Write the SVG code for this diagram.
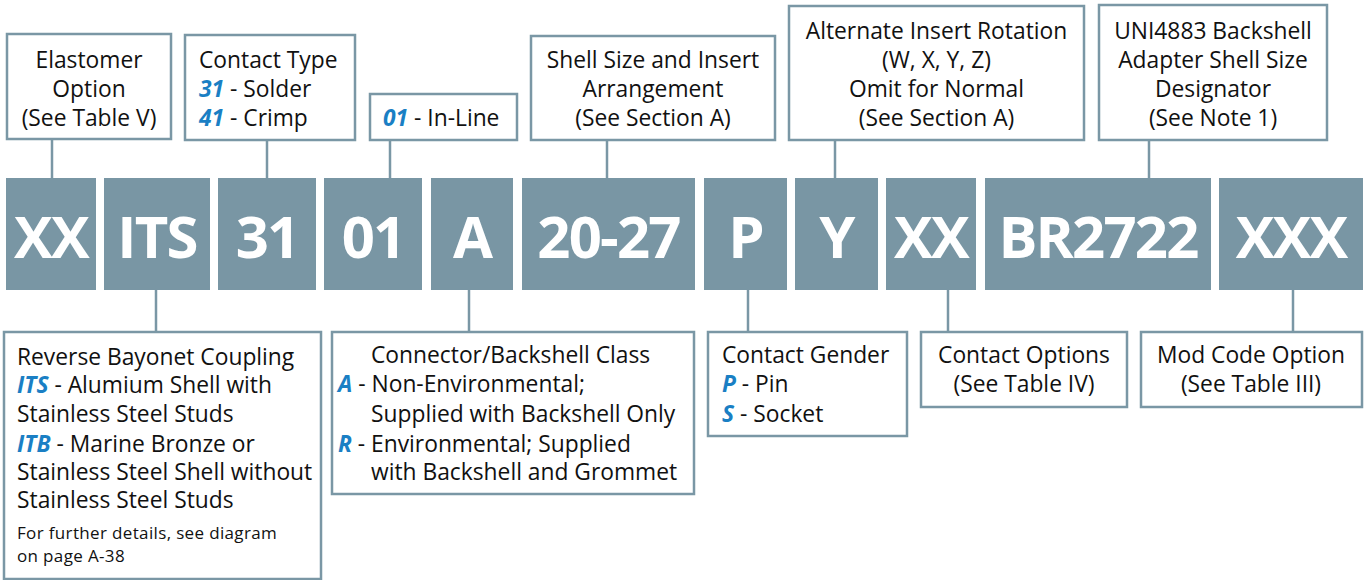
<svg xmlns="http://www.w3.org/2000/svg" width="1365" height="580" viewBox="0 0 1365 580">
<style>
.box{fill:#fff;stroke:#7a97a5;stroke-width:2.5}
.blk{fill:#7996a4}
.code{font-family:"Open Sans","Noto Sans",sans-serif;font-weight:700;font-size:58px;fill:#fff;text-anchor:middle;letter-spacing:-1.8px}
.t{font-family:"Open Sans","Noto Sans",sans-serif;font-size:22.8px;fill:#111}
.c{text-anchor:middle}
.s{font-size:17px;letter-spacing:0.35px}
.b{fill:#1a7fc4;font-weight:700;font-style:italic}
.ln{stroke:#7a97a5;stroke-width:2.5;fill:none}
</style>
<rect width="1365" height="580" fill="#fff"/>
<g id="connectors">
<line class="ln" x1="52" y1="139" x2="52" y2="178"/>
<line class="ln" x1="267" y1="140" x2="267" y2="178"/>
<line class="ln" x1="390" y1="140" x2="390" y2="178"/>
<line class="ln" x1="607" y1="140" x2="607" y2="178"/>
<line class="ln" x1="835" y1="140" x2="835" y2="178"/>
<line class="ln" x1="1149" y1="140" x2="1149" y2="178"/>
<line class="ln" x1="156" y1="290" x2="156" y2="332"/>
<line class="ln" x1="469" y1="290" x2="469" y2="332"/>
<line class="ln" x1="748" y1="290" x2="748" y2="332"/>
<line class="ln" x1="948" y1="290" x2="948" y2="332"/>
<line class="ln" x1="1293" y1="290" x2="1293" y2="332"/>
</g>
<g id="code-XX1"><rect class="blk" x="6" y="178" width="90" height="112"/><text class="code" x="51" y="258">XX</text></g>
<g id="code-ITS"><rect class="blk" x="104" y="178" width="106" height="112"/><text class="code" x="157" y="258">ITS</text></g>
<g id="code-31"><rect class="blk" x="218" y="178" width="98" height="112"/><text class="code" x="267" y="258">31</text></g>
<g id="code-01"><rect class="blk" x="324" y="178" width="98" height="112"/><text class="code" x="373" y="258">01</text></g>
<g id="code-A"><rect class="blk" x="431" y="178" width="82" height="112"/><text class="code" x="472" y="258">A</text></g>
<g id="code-20-27"><rect class="blk" x="522" y="178" width="173" height="112"/><text class="code" x="608.5" y="258">20-27</text></g>
<g id="code-P"><rect class="blk" x="704" y="178" width="83" height="112"/><text class="code" x="745.5" y="258">P</text></g>
<g id="code-Y"><rect class="blk" x="795" y="178" width="83" height="112"/><text class="code" x="836.5" y="258">Y</text></g>
<g id="code-XX2"><rect class="blk" x="886" y="178" width="90" height="112"/><text class="code" x="931" y="258">XX</text></g>
<g id="code-BR2722"><rect class="blk" x="985" y="178" width="226" height="112"/><text class="code" x="1098" y="258">BR2722</text></g>
<g id="code-XXX"><rect class="blk" x="1219" y="178" width="144" height="112"/><text class="code" x="1291" y="258">XXX</text></g>

<g id="elastomer"><rect class="box" x="7" y="34" width="164" height="105"/>
<text class="t c" x="89" y="68">Elastomer</text>
<text class="t c" x="89" y="97">Option</text>
<text class="t c" x="89" y="126">(See Table V)</text></g>
<g id="contact-type"><rect class="box" x="185" y="35" width="170" height="105"/>
<text class="t" x="199" y="68">Contact Type</text>
<text class="t" x="199" y="97"><tspan class="b">31</tspan> - Solder</text>
<text class="t" x="199" y="126"><tspan class="b">41</tspan> - Crimp</text></g>
<g id="in-line"><rect class="box" x="370" y="94" width="147" height="46"/>
<text class="t" x="383" y="126"><tspan class="b">01</tspan> - In-Line</text></g>
<g id="shell-size"><rect class="box" x="531" y="36" width="244" height="104"/>
<text class="t c" x="653" y="68">Shell Size and Insert</text>
<text class="t c" x="653" y="97">Arrangement</text>
<text class="t c" x="653" y="126">(See Section A)</text></g>
<g id="rotation"><rect class="box" x="789" y="6" width="295" height="134"/>
<text class="t c" x="936.5" y="39">Alternate Insert Rotation</text>
<text class="t c" x="936.5" y="68">(W, X, Y, Z)</text>
<text class="t c" x="936.5" y="97">Omit for Normal</text>
<text class="t c" x="936.5" y="126">(See Section A)</text></g>
<g id="uni4883"><rect class="box" x="1099" y="5" width="228" height="135"/>
<text class="t c" x="1213" y="39">UNI4883 Backshell</text>
<text class="t c" x="1213" y="68">Adapter Shell Size</text>
<text class="t c" x="1213" y="97">Designator</text>
<text class="t c" x="1213" y="126">(See Note 1)</text></g>

<g id="coupling"><rect class="box" x="4" y="332" width="317" height="247"/>
<text class="t" x="17" y="365">Reverse Bayonet Coupling</text>
<text class="t" x="17" y="393"><tspan class="b">ITS</tspan> - Alumium Shell with</text>
<text class="t" x="17" y="422">Stainless Steel Studs</text>
<text class="t" x="17" y="452"><tspan class="b">ITB</tspan> - Marine Bronze or</text>
<text class="t" x="17" y="480">Stainless Steel Shell without</text>
<text class="t" x="17" y="508">Stainless Steel Studs</text>
<text class="t s" x="17" y="539">For further details, see diagram</text>
<text class="t s" x="17" y="562">on page A-38</text></g>
<g id="backshell-class"><rect class="box" x="332" y="332" width="362" height="162"/>
<text class="t" x="371" y="363">Connector/Backshell Class</text>
<text class="t" x="338" y="392"><tspan class="b">A</tspan> - Non-Environmental;</text>
<text class="t" x="371" y="422">Supplied with Backshell Only</text>
<text class="t" x="338" y="452"><tspan class="b">R</tspan> - Environmental; Supplied</text>
<text class="t" x="371" y="480">with Backshell and Grommet</text></g>
<g id="gender"><rect class="box" x="708" y="332" width="199" height="104"/>
<text class="t" x="722" y="363">Contact Gender</text>
<text class="t" x="722" y="392"><tspan class="b">P</tspan> - Pin</text>
<text class="t" x="722" y="422"><tspan class="b">S</tspan> - Socket</text></g>
<g id="contact-options"><rect class="box" x="921" y="332" width="206" height="75"/>
<text class="t c" x="1024" y="363">Contact Options</text>
<text class="t c" x="1024" y="392">(See Table IV)</text></g>
<g id="mod-code"><rect class="box" x="1141" y="332" width="221" height="75"/>
<text class="t c" x="1251" y="363">Mod Code Option</text>
<text class="t c" x="1251" y="392">(See Table III)</text></g>
</svg>
